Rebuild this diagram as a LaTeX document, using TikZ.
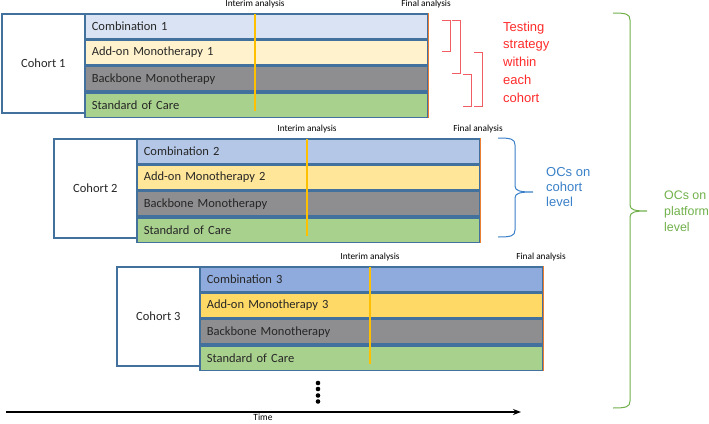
\documentclass[tikz,border=0pt]{standalone}
\usepackage{fontspec}
\setmainfont{Carlito}
\newfontfamily\helv{Liberation Sans}
\usetikzlibrary{arrows.meta}
\definecolor{edgeblue}{HTML}{41719C}
\definecolor{cAone}{HTML}{DAE3F3}
\definecolor{cBone}{HTML}{FFF2CC}
\definecolor{cAtwo}{HTML}{B4C7E7}
\definecolor{cBtwo}{HTML}{FFE699}
\definecolor{cAthree}{HTML}{8FAADC}
\definecolor{cBthree}{HTML}{FFD966}
\definecolor{backbone}{HTML}{8E8E90}
\definecolor{soc}{HTML}{A9D18E}
\definecolor{finalorange}{HTML}{ED7D31}
\definecolor{interimgold}{HTML}{FFC000}
\definecolor{redtxt}{HTML}{FF2B2B}
\definecolor{redbr}{HTML}{F25C64}
\definecolor{bluetxt}{HTML}{3A80C8}
\definecolor{greentxt}{HTML}{70B04A}
\tikzset{
  labelbox/.style={draw=edgeblue, line width=1.6pt, fill=white, minimum width=83pt, minimum height=99pt, inner sep=0pt, font=\fontsize{12.5}{14}\selectfont, text=black!85},
  rowbox/.style={draw=edgeblue, line width=1.6pt, minimum height=24.75pt, text width=329pt, inner xsep=7pt, inner ysep=0pt, align=left, font=\fontsize{12.5}{14}\selectfont, text=black!85},
  interim/.style={draw=interimgold, line width=1.2pt},
  finalln/.style={draw=finalorange, line width=1.6pt},
  smalllabel/.style={font=\fontsize{9.3}{11}\selectfont, text=black, inner sep=0pt},
  redbracket/.style={draw=redbr, line width=0.9pt},
  dotnode/.style={circle, fill=black, inner sep=0pt, minimum size=4.6pt},
}
\newcommand\drawcohort[5]{%
  \node[labelbox, anchor=north west] (c#1lab) at (#2,#3) {Cohort #1};
  \node[rowbox, fill=#4, anchor=north west] (c#1r1) at ({#2+83},#3) {Combination #1};
  \node[rowbox, fill=#5, anchor=north west] (c#1r2) at (c#1r1.south west) {Add-on Monotherapy #1};
  \node[rowbox, fill=backbone, anchor=north west] (c#1r3) at (c#1r2.south west) {Backbone Monotherapy};
  \node[rowbox, fill=soc, anchor=north west] (c#1r4) at (c#1r3.south west) {Standard of Care};
  \coordinate (c#1it) at ({#2+254},{#3+0.8});
  \coordinate (c#1ib) at ({#2+254},{#3+98.2});
  \draw[interim] (c#1it) -- (c#1ib);
  \draw[finalln] (c#1r1.north east) -- (c#1r4.south east);
  \node[smalllabel] (c#1il) at ({#2+254},{#3-8.5}) {Interim analysis};
  \node[smalllabel] (c#1fl) at ({#2+425},{#3-8.5}) {Final analysis};
}
\begin{document}
\begin{tikzpicture}[x=1pt,y=-1pt]
\useasboundingbox (0,0) rectangle (709,423);
\drawcohort{1}{1}{13}{cAone}{cBone}
\drawcohort{2}{53}{138}{cAtwo}{cBtwo}
\drawcohort{3}{116}{266}{cAthree}{cBthree}
% red brackets
\draw[redbracket] (442,20) -- (450,20) -- (450,51) -- (442,51);
\draw[redbracket] (452,20) -- (460,20) -- (460,73) -- (452,73);
\draw[redbracket] (474,52) -- (482,52) -- (482,106) -- (474,106);
\draw[redbracket] (463,74) -- (471,74) -- (471,106) -- (463,106);
\node[anchor=west, align=left, inner sep=0pt, text=redtxt, font=\helv\fontsize{13}{17.7}\selectfont] (rtext) at (503,62) {Testing\\strategy\\within\\each\\cohort};
% blue brace
\draw[draw=bluetxt, line width=1pt] (498,138) .. controls (511,138) and (515,139) .. (515,145) -- (515,186) .. controls (515,191) and (520,192) .. (533,192) .. controls (520,192) and (515,193) .. (515,198) -- (515,230) .. controls (515,236) and (511,237) .. (498,237);
\node[anchor=west, align=left, inner sep=0pt, text=bluetxt, font=\helv\fontsize{13}{15.2}\selectfont] (btext) at (546,187) {OCs on\\cohort\\level};
% green brace
\draw[draw=greentxt, line width=1pt] (613,13) .. controls (626,13) and (630,14) .. (630,20) -- (630,205) .. controls (630,210) and (635,211) .. (647,211) .. controls (635,211) and (630,212) .. (630,217) -- (630,401) .. controls (630,407) and (626,408) .. (613,408);
\node[anchor=west, align=left, inner sep=0pt, text=greentxt, font=\helv\fontsize{12.4}{16}\selectfont] (gtext) at (664,211) {OCs on\\platform\\level};
% dots
\node[dotnode] (d1) at (318,383) {};
\node[dotnode] (d2) at (318,389) {};
\node[dotnode] (d3) at (318,395.5) {};
\node[dotnode] (d4) at (318,401.5) {};
% time axis
\coordinate (t0) at (6,412);
\coordinate (t1) at (521,412);
\draw[line width=1.5pt, -{Stealth[length=8pt,width=6pt]}] (t0) -- (t1);
\node[smalllabel, font=\fontsize{9.5}{11}\selectfont, anchor=south] (tlab) at (263,421) {Time};
\end{tikzpicture}
\end{document}
